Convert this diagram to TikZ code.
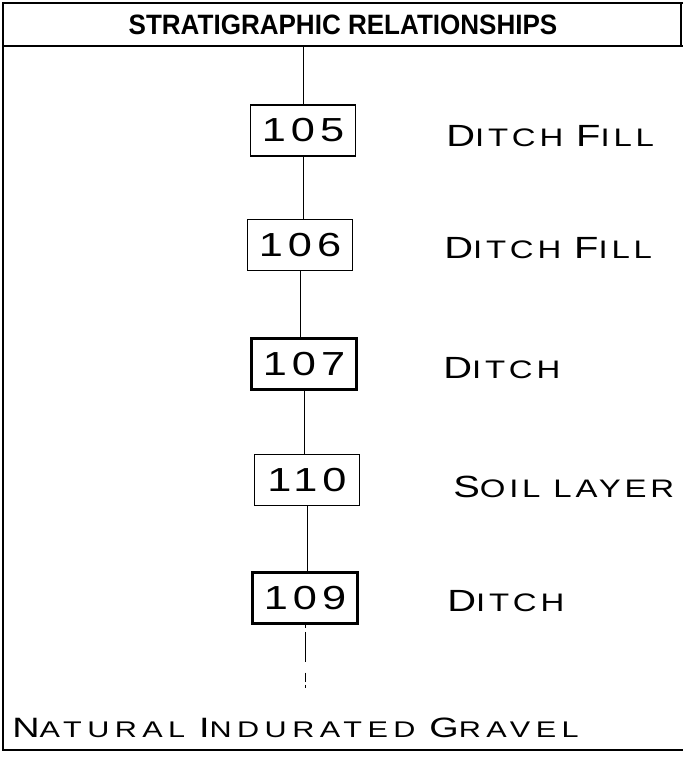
\documentclass[tikz,border=0pt]{standalone}
\usepackage{fontspec}
\setmainfont{Liberation Sans}
\newfontfamily\titlefont[FakeStretch=0.93]{Liberation Sans}
\newfontfamily\numfont[FakeStretch=1.3,LetterSpace=15]{Liberation Sans}
\newfontfamily\lblfont[FakeStretch=1.3,LetterSpace=15]{Liberation Sans}
\newfontfamily\gravelfont[FakeStretch=1.35,LetterSpace=24]{Liberation Sans}
\newcommand\initcap[1]{{\fontsize{23}{23}\selectfont #1}}
\newcommand\gravelcap[1]{{\fontsize{21}{21}\selectfont #1}}
\tikzset{
  deposit/.style={draw, line width=1pt, minimum width=78.75pt, minimum height=38.25pt,
    inner sep=0pt, font=\numfont\fontsize{25}{25}\selectfont},
  cut/.style={deposit, line width=2pt},
  lbl/.style={anchor=base west, inner sep=0pt, font=\lblfont\fontsize{19}{19}\selectfont},
  link/.style={line width=0.75pt}
}
\begin{document}
\begin{tikzpicture}[x=0.75pt,y=-0.75pt]
\useasboundingbox (0,0) rectangle (683,760);
% frame and header
\draw[line width=1.6pt] (683,3) -- (3,3) -- (3,750) -- (683,750);
\draw[line width=2.2pt] (3,46) -- (683,46);
\draw[line width=1.5pt] (681,3) -- (681,46);
\node[font=\titlefont\bfseries\fontsize{21}{22}\selectfont] (title) at (343,25) {STRATIGRAPHIC RELATIONSHIPS};
% sequence
\coordinate (top) at (303,46);
\node[deposit] (n105) at (303,130.5) {105};
\node[deposit] (n106) at (300,245) {106};
\node[cut] (n107) at (304,364) {107};
\node[deposit] (n110) at (307,480) {110};
\node[cut] (n109) at (305,598) {109};
\coordinate (bot) at (305,688);
\node[lbl] (l105) at (446,146) {\initcap{D}ITCH \initcap{F}ILL};
\node[lbl] (l106) at (444,258) {\initcap{D}ITCH \initcap{F}ILL};
\node[lbl] (l107) at (443,378) {\initcap{D}ITCH};
\node[lbl] (l110) at (453,497) {\initcap{S}OIL LAYER};
\node[lbl] (l109) at (447,611) {\initcap{D}ITCH};
\draw[link] (top) -- (n105);
\draw[link] (n105.south) -- (n105.south |- n106.north);
\draw[link] (n106.south) -- (n106.south |- n107.north);
\draw[link] (n107.south) -- (n107.south |- n110.north);
\draw[link] (n110.south) -- (n110.south |- n109.north);
\draw[link, dash pattern=on 2.25pt off 3pt on 22.5pt off 8pt on 6.75pt] (n109) -- (bot);
% base of sequence
\node[anchor=base west, inner sep=0pt, font=\gravelfont\fontsize{17}{17}\selectfont] (gravel) at (12,737) {\gravelcap{N}ATURAL \gravelcap{I}NDURATED \gravelcap{G}RAVEL};
\end{tikzpicture}
\end{document}
